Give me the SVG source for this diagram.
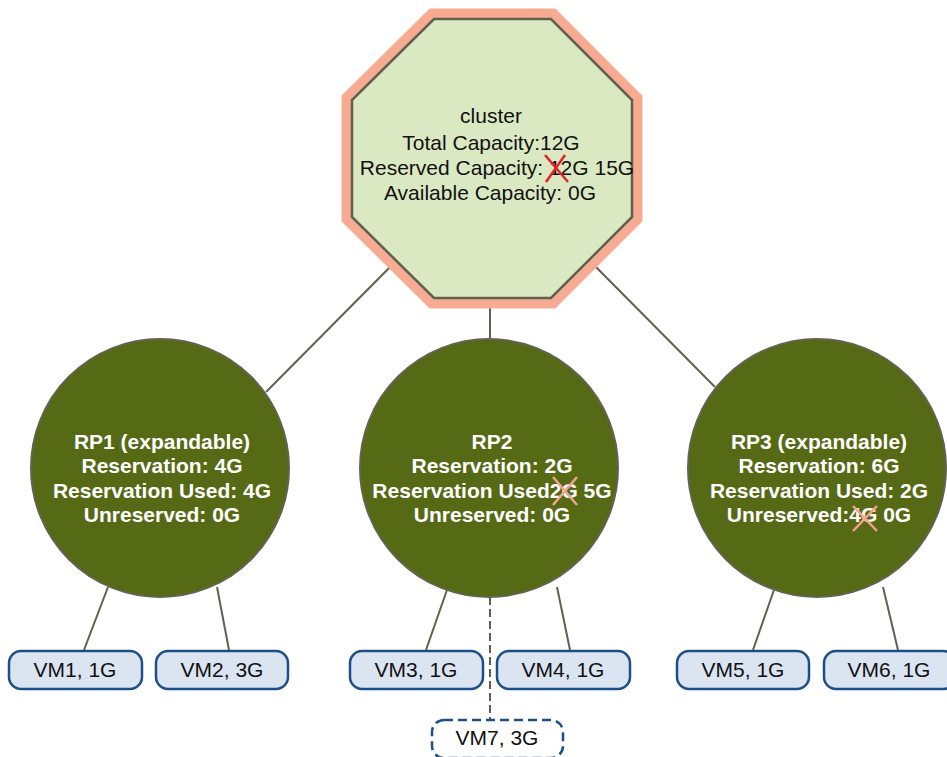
<svg xmlns="http://www.w3.org/2000/svg" width="947" height="757" viewBox="0 0 947 757">
<style>
.conn{stroke:#5f614e;stroke-width:2;fill:none}
.dash{stroke-dasharray:8 4}
.rp{fill:#566914;stroke:#62644f;stroke-width:2}
.rpt{font-family:"Liberation Sans",Arial,sans-serif;font-size:21px;font-weight:bold;fill:#fff;text-anchor:middle}
.ct{font-family:"Liberation Sans",Arial,sans-serif;font-size:21px;fill:#111;text-anchor:middle}
.vm{fill:#dbe4f1;stroke:#1c4f8a;stroke-width:2.5}
.vmd{fill:#fff;stroke:#1c4f8a;stroke-width:2.5;stroke-dasharray:9 5}
.vt{font-family:"Liberation Sans",Arial,sans-serif;font-size:21px;fill:#111;text-anchor:middle}
.xr{stroke:#e3222a;stroke-width:2.5;fill:none}
.xs{stroke:#f3a48c;stroke-width:2.5;fill:none}
</style>
<rect width="947" height="757" fill="#fff"/>
<g id="connectors">
<line class="conn" x1="396" y1="261" x2="266" y2="392"/>
<line class="conn" x1="490" y1="298" x2="490" y2="338"/>
<line class="conn" x1="590" y1="261" x2="715" y2="387"/>
<line class="conn" x1="108" y1="587" x2="84" y2="650"/>
<line class="conn" x1="217" y1="587" x2="229" y2="650"/>
<line class="conn" x1="448" y1="587" x2="426" y2="650"/>
<line class="conn" x1="557" y1="587" x2="570" y2="650"/>
<line class="conn dash" x1="490" y1="597" x2="490" y2="720"/>
<line class="conn" x1="775" y1="587" x2="753" y2="650"/>
<line class="conn" x1="883" y1="587" x2="898" y2="650"/>
</g>
<g id="cluster">
<polygon points="434,19 551,19 632,100 632,217 551,298 434,298 352,217 352,100" fill="none" stroke="#f7ab92" stroke-width="21"/>
<polygon points="434,19 551,19 632,100 632,217 551,298 434,298 352,217 352,100" fill="#dbe9c3" stroke="#5f614e" stroke-width="2.5"/>
<text class="ct" x="491" y="123">cluster</text>
<text class="ct" x="491" y="150">Total Capacity:12G</text>
<text class="ct" x="497" y="175">Reserved Capacity: 12G 15G</text>
<text class="ct" x="490" y="200">Available Capacity: 0G</text>
<path class="xr" d="M545,155 L568,182 M565,155 L546,182"/>
</g>
<g id="rp1">
<circle class="rp" cx="160" cy="468" r="129"/>
<text class="rpt" x="162" y="449">RP1 (expandable)</text>
<text class="rpt" x="162" y="473">Reservation: 4G</text>
<text class="rpt" x="162" y="498">Reservation Used: 4G</text>
<text class="rpt" x="162" y="522">Unreserved: 0G</text>
</g>
<g id="rp2">
<circle class="rp" cx="489" cy="468" r="129"/>
<text class="rpt" x="492" y="449">RP2</text>
<text class="rpt" x="492" y="473">Reservation: 2G</text>
<text class="rpt" x="492" y="498">Reservation Used2G 5G</text>
<text class="rpt" x="492" y="522">Unreserved: 0G</text>
<path class="xs" d="M553,477 L577,505 M577,477 L553,505"/>
</g>
<g id="rp3">
<circle class="rp" cx="817" cy="468" r="129"/>
<text class="rpt" x="819" y="449">RP3 (expandable)</text>
<text class="rpt" x="819" y="473">Reservation: 6G</text>
<text class="rpt" x="819" y="498">Reservation Used: 2G</text>
<text class="rpt" x="819" y="522">Unreserved:4G 0G</text>
<path class="xs" d="M853,506 L877,531 M877,506 L853,531"/>
</g>
<g id="vm1"><rect class="vm" x="9" y="651" width="133" height="38" rx="12"/><text class="vt" x="75" y="677">VM1, 1G</text></g>
<g id="vm2"><rect class="vm" x="156" y="651" width="132" height="38" rx="12"/><text class="vt" x="222" y="677">VM2, 3G</text></g>
<g id="vm3"><rect class="vm" x="350" y="651" width="133" height="38" rx="12"/><text class="vt" x="416" y="677">VM3, 1G</text></g>
<g id="vm4"><rect class="vm" x="497" y="651" width="133" height="38" rx="12"/><text class="vt" x="563" y="677">VM4, 1G</text></g>
<g id="vm7"><rect class="vmd" x="432" y="720" width="131" height="38" rx="12"/><text class="vt" x="497" y="745">VM7, 3G</text></g>
<g id="vm5"><rect class="vm" x="677" y="651" width="132" height="38" rx="12"/><text class="vt" x="743" y="677">VM5, 1G</text></g>
<g id="vm6"><rect class="vm" x="824" y="651" width="131" height="38" rx="12"/><text class="vt" x="889" y="677">VM6, 1G</text></g>
</svg>
